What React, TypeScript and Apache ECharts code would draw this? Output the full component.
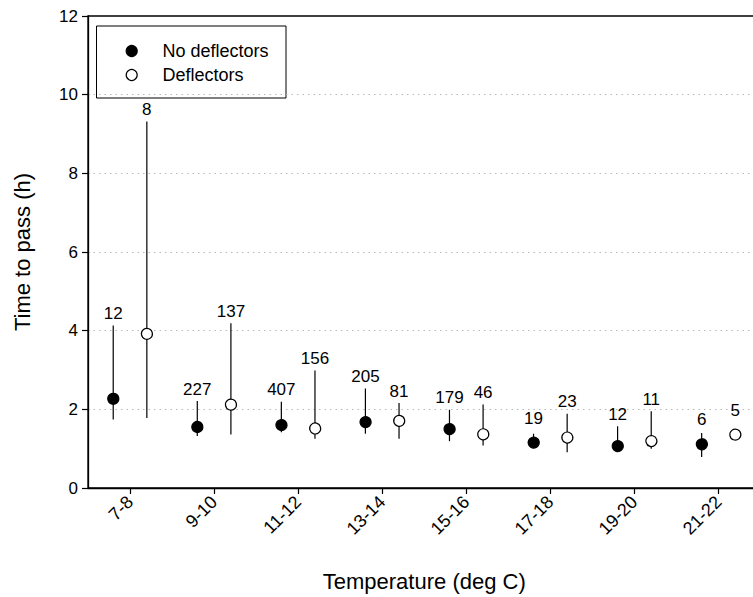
import React, { useEffect, useRef } from "react";
import * as echarts from "echarts";

// temperature classes on the x axis
const categories = ["7-8", "9-10", "11-12", "13-14", "15-16", "17-18", "19-20", "21-22"];

// no deflectors: mean, lower / upper whisker, sample size
const noDefMean = [2.29, 1.57, 1.63, 1.71, 1.53, 1.19, 1.1, 1.15];
const noDefLow = [1.74, 1.32, 1.42, 1.38, 1.19, 1.05, 0.93, 0.79];
const noDefHigh = [4.13, 2.21, 2.19, 2.53, 1.99, 1.38, 1.57, 1.4];
const noDefN = [12, 227, 407, 205, 179, 19, 12, 6];

// deflectors
const defMean = [3.94, 2.14, 1.55, 1.74, 1.4, 1.32, 1.23, 1.38];
const defLow = [1.78, 1.36, 1.25, 1.25, 1.08, 0.91, 1.0, 1.38];
const defHigh = [9.32, 4.19, 2.99, 2.16, 2.12, 1.89, 1.95, 1.38];
const defN = [8, 137, 156, 81, 46, 23, 11, 5];

const FONT = '"Liberation Sans", Arial, Helvetica, sans-serif';
const R = 5.5;

const makeSeries = (
  name: string,
  mean: number[],
  low: number[],
  high: number[],
  n: number[],
  fill: string,
  shift: number
): any => ({
  type: "custom",
  name,
  data: mean.map((m, i) => [i, m, low[i], high[i], n[i]]),
  encode: { x: 0, y: 1 },
  renderItem: (params: any, api: any) => {
    const i = api.value(0);
    const c = api.coord([i, api.value(1)]);
    const lo = api.coord([i, api.value(2)]);
    const hi = api.coord([i, api.value(3)]);
    const band = api.size([1, 0])[0];
    const x = c[0] + shift * band;
    const labelY = Math.min(hi[1] - 12, c[1] - R - 17.5);
    return {
      type: "group",
      children: [
        {
          type: "line",
          shape: { x1: x, y1: hi[1], x2: x, y2: lo[1] },
          style: { stroke: "#000", lineWidth: 1.2 },
        },
        {
          type: "circle",
          shape: { cx: x, cy: c[1], r: R },
          style: { fill, stroke: "#000", lineWidth: 1.2 },
        },
        {
          type: "text",
          style: {
            text: String(api.value(4)),
            x,
            y: labelY,
            align: "center",
            verticalAlign: "middle",
            fontSize: 17,
            fontFamily: FONT,
            fill: "#000",
          },
        },
      ],
    };
  },
});

const App: React.FC = () => {
  const chartRef = useRef<HTMLDivElement>(null);

  useEffect(() => {
    const chart = echarts.init(chartRef.current, undefined, { renderer: "svg" });

    const option: any = {
      animation: false,
      backgroundColor: "#fff",
      textStyle: { fontFamily: FONT },
      grid: {
        left: 88,
        top: 16,
        width: 672.5,
        height: 472.5,
        show: true,
        borderColor: "#000",
        borderWidth: 1.3,
        backgroundColor: "transparent",
      },
      xAxis: {
        type: "category",
        data: categories,
        boundaryGap: true,
        name: "Temperature (deg C)",
        nameLocation: "middle",
        nameGap: 82,
        nameTextStyle: { fontSize: 22, color: "#000", fontFamily: FONT },
        axisLine: { show: true, lineStyle: { color: "#000", width: 1.3 } },
        axisTick: { show: true, alignWithLabel: true, length: 6, lineStyle: { color: "#000", width: 1.2 } },
        axisLabel: { rotate: 45, fontSize: 18, color: "#000", margin: 11, fontFamily: FONT },
        splitLine: { show: false },
      },
      yAxis: {
        type: "value",
        min: 0,
        max: 12,
        interval: 2,
        name: "Time to pass (h)",
        nameLocation: "middle",
        nameGap: 55,
        nameTextStyle: { fontSize: 22, color: "#000", fontFamily: FONT },
        axisLine: { show: true, lineStyle: { color: "#000", width: 1.3 } },
        axisTick: { show: true, length: 6, lineStyle: { color: "#000", width: 1.2 } },
        axisLabel: { fontSize: 17, color: "#000", margin: 10, fontFamily: FONT },
        splitLine: {
          show: true,
          showMinLine: false,
          showMaxLine: false,
          lineStyle: { color: "#b8b8b8", width: 1, type: [1.5, 4] },
        },
      },
      series: [
        makeSeries("No deflectors", noDefMean, noDefLow, noDefHigh, noDefN, "#000", -0.2),
        makeSeries("Deflectors", defMean, defLow, defHigh, defN, "#fff", 0.2),
      ],
      graphic: [
        {
          type: "group",
          z: 100,
          children: [
            {
              type: "rect",
              shape: { x: 96.5, y: 26, width: 189.5, height: 72 },
              style: { fill: "#fff", stroke: "#000", lineWidth: 1 },
            },
            {
              type: "circle",
              shape: { cx: 131.7, cy: 51, r: R },
              style: { fill: "#000", stroke: "#000", lineWidth: 1.2 },
            },
            {
              type: "circle",
              shape: { cx: 131.7, cy: 75, r: R },
              style: { fill: "#fff", stroke: "#000", lineWidth: 1.2 },
            },
            {
              type: "text",
              style: { text: "No deflectors", x: 162.5, y: 51, verticalAlign: "middle", fontSize: 18, fontFamily: FONT, fill: "#000" },
            },
            {
              type: "text",
              style: { text: "Deflectors", x: 162.5, y: 75, verticalAlign: "middle", fontSize: 18, fontFamily: FONT, fill: "#000" },
            },
          ],
        },
      ],
    };

    chart.setOption(option);
    return () => {
      chart.dispose();
    };
  }, []);

  // the plot frame runs past the right edge of the picture, so the chart is wider than the visible box
  return (
    <div style={{ position: "fixed", left: 0, top: 0, width: 753, height: 597, overflow: "hidden", background: "#fff" }}>
      <div ref={chartRef} style={{ width: 766, height: 597 }} />
    </div>
  );
};

export default App;
